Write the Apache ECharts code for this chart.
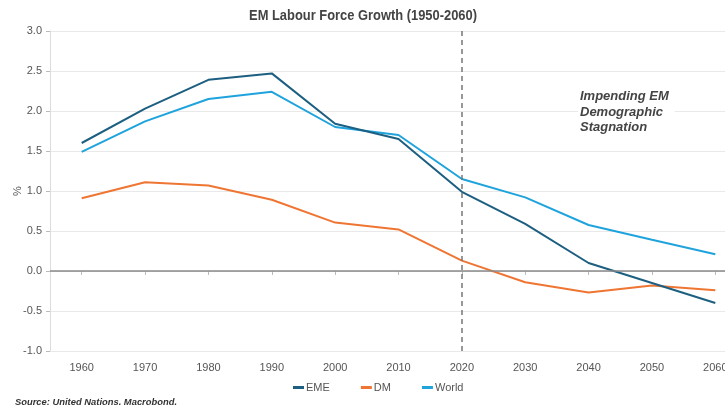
<!DOCTYPE html>
<html>
<head>
<meta charset="utf-8">
<script src="https://cdn.jsdelivr.net/npm/echarts@6/dist/echarts.min.js"></script>
<style>
html,body{margin:0;padding:0;background:#fff;}
#chart{width:725px;height:412px;}
</style>
</head>
<body>
<div id="chart"></div>
<script>
const years = ['1960','1970','1980','1990','2000','2010','2020','2030','2040','2050','2060'];
const eme   = [1.60, 2.03, 2.39, 2.47, 1.84, 1.65, 0.99, 0.59, 0.10, -0.15, -0.40];
const dm    = [0.91, 1.11, 1.07, 0.89, 0.605, 0.52, 0.13, -0.14, -0.27, -0.18, -0.24];
const world = [1.49, 1.87, 2.15, 2.24, 1.80, 1.70, 1.15, 0.92, 0.575, 0.39, 0.21];
const yTicks = {min: -1, max: 3, step: 0.5};
const titleText = 'EM Labour Force Growth (1950-2060)';
const sourceText = 'Source: United Nations. Macrobond.';
const noteText = 'Impending EM\nDemographic\nStagnation';
const markYear = '2020';

const chart = echarts.init(document.getElementById('chart'), null, {renderer: 'canvas'});
const lineCommon = {type: 'line', symbol: 'none', lineStyle: {width: 2}, emphasis: {disabled: true}};
chart.setOption({
  animation: false,
  backgroundColor: '#fff',
  textStyle: {fontFamily: 'Liberation Sans, Arial, sans-serif'},
  legend: {
    bottom: 14, left: 288, itemWidth: 11, itemHeight: 3, itemGap: 31,
    icon: 'rect',
    textStyle: {fontSize: 11, color: '#555', padding: [0, 0, 0, -3]},
    data: ['EME', 'DM', 'World']
  },
  grid: {left: 50, right: -22, top: 31, bottom: 61, containLabel: false, outerBoundsMode: 'none'},
  xAxis: {
    type: 'category', data: years, boundaryGap: true, offset: 6,
    axisLine: {show: true, lineStyle: {color: '#ddd'}},
    axisTick: {show: true, alignWithLabel: true, length: 4, lineStyle: {color: '#bbb'}},
    axisLabel: {color: '#555', fontSize: 11, margin: 5},
    splitLine: {show: false}
  },
  yAxis: {
    type: 'value', min: yTicks.min, max: yTicks.max, interval: yTicks.step,
    name: '%', nameLocation: 'middle', nameGap: 27, nameRotate: 90, nameMoveOverlap: false,
    nameTextStyle: {color: '#555', fontSize: 11},
    axisLine: {show: true, lineStyle: {color: '#ddd'}},
    axisTick: {show: true, length: 4, lineStyle: {color: '#bbb'}},
    axisLabel: {color: '#555', fontSize: 11, margin: 8, formatter: v => v.toFixed(1)},
    splitLine: {show: true, lineStyle: {color: '#e9e9e9', width: 1}}
  },
  series: [
    Object.assign({}, lineCommon, {
      name: 'EME', data: eme, itemStyle: {color: '#1d5f80'}, z: 4,
      lineStyle: {width: 2, color: '#1d5f80'},
      markLine: {
        silent: true, symbol: 'none', label: {show: false},
        data: [
          {yAxis: 0, lineStyle: {color: '#8a8a8a', width: 1.5, type: 'solid'}},
          {xAxis: markYear, lineStyle: {color: '#777', width: 1.5, type: [5, 4]}}
        ]
      }
    }),
    Object.assign({}, lineCommon, {
      name: 'DM', data: dm, itemStyle: {color: '#ef7533'}, z: 3,
      lineStyle: {width: 2, color: '#ef7533'}
    }),
    Object.assign({}, lineCommon, {
      name: 'World', data: world, itemStyle: {color: '#1fa3dd'}, z: 3,
      lineStyle: {width: 2, color: '#1fa3dd'}
    })
  ],
  graphic: [
    {
      type: 'text', x: 363, y: 16, scaleX: 0.86, z: 10,
      style: {
        text: titleText, fill: '#444', textAlign: 'center', textVerticalAlign: 'middle',
        font: 'bold 15px Liberation Sans, Arial, sans-serif'
      }
    },
    {
      type: 'text', left: 578, top: 89, z: 10,
      style: {
        text: noteText, fill: '#444', font: 'italic bold 13px Liberation Sans, Arial, sans-serif',
        lineHeight: 15.5, backgroundColor: '#fff', padding: [0, 6, 0, 2]
      }
    },
    {
      type: 'text', left: 15, top: 398, z: 10,
      style: {
        text: sourceText, fill: '#333', font: 'italic bold 9.4px Liberation Sans, Arial, sans-serif'
      }
    }
  ]
});
</script>
</body>
</html>
